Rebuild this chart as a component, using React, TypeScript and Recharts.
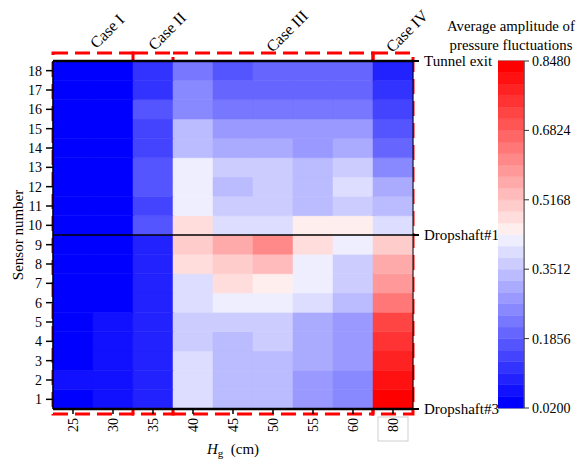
import React from 'react';
import { ComposedChart, BarChart, Bar, Line, Cell, XAxis, YAxis, ReferenceArea, ReferenceLine } from 'recharts';

const FONT = '"Liberation Serif", "Times New Roman", serif';

// H_g columns (cm) and sensor rows
const hgLabels = ['25', '30', '35', '40', '45', '50', '55', '60', '80'];
const sensorLabels = ['1', '2', '3', '4', '5', '6', '7', '8', '9', '10', '11', '12', '13', '14', '15', '16', '17', '18'];

// average amplitude of pressure fluctuations, sensor 1 -> 18
const amp25 = [0.034, 0.061, 0.034, 0.034, 0.034, 0.034, 0.034, 0.034, 0.034, 0.034, 0.034, 0.034, 0.034, 0.034, 0.034, 0.034, 0.034, 0.034];
const amp30 = [0.061, 0.061, 0.061, 0.061, 0.061, 0.034, 0.034, 0.034, 0.034, 0.034, 0.034, 0.034, 0.034, 0.034, 0.034, 0.034, 0.034, 0.034];
const amp35 = [0.089, 0.089, 0.089, 0.089, 0.089, 0.089, 0.089, 0.089, 0.089, 0.172, 0.144, 0.172, 0.172, 0.144, 0.144, 0.172, 0.117, 0.117];
const amp40 = [0.393, 0.393, 0.393, 0.365, 0.365, 0.393, 0.393, 0.476, 0.503, 0.476, 0.420, 0.420, 0.420, 0.337, 0.337, 0.255, 0.255, 0.227];
const amp45 = [0.337, 0.337, 0.337, 0.337, 0.365, 0.420, 0.476, 0.503, 0.558, 0.393, 0.365, 0.337, 0.365, 0.310, 0.282, 0.227, 0.199, 0.172];
const amp50 = [0.337, 0.337, 0.337, 0.365, 0.365, 0.420, 0.448, 0.531, 0.614, 0.393, 0.365, 0.365, 0.365, 0.310, 0.282, 0.227, 0.199, 0.199];
const amp55 = [0.282, 0.282, 0.310, 0.310, 0.310, 0.393, 0.420, 0.420, 0.476, 0.448, 0.337, 0.337, 0.337, 0.282, 0.282, 0.227, 0.199, 0.199];
const amp60 = [0.255, 0.255, 0.282, 0.282, 0.282, 0.337, 0.365, 0.365, 0.420, 0.448, 0.365, 0.393, 0.365, 0.310, 0.282, 0.227, 0.199, 0.199];
const amp80 = [0.834, 0.807, 0.779, 0.752, 0.724, 0.641, 0.586, 0.558, 0.503, 0.393, 0.337, 0.310, 0.255, 0.199, 0.172, 0.144, 0.117, 0.089];
const columns = [amp25, amp30, amp35, amp40, amp45, amp50, amp55, amp60, amp80];

// right axis markers
const siteTicks = [0, 9, 18];
const siteLabels = ['Dropshaft#3', 'Dropshaft#1', 'Tunnel exit'];

// cases
const caseNames = ['Case I', 'Case II', 'Case III', 'Case IV'];
const caseFrom = ['25', '35', '40', '80'];
const caseTo = ['30', '35', '60', '80'];

// colour bar
const cbLabels = ['0.0200', '0.1856', '0.3512', '0.5168', '0.6824', '0.8480'];
const V_MIN = 0.02;
const V_MAX = 0.848;
const LEVELS = 30;
const STEP = (V_MAX - V_MIN) / LEVELS;

function levelColor(level: number) {
  const half = LEVELS / 2;
  if (level < half) {
    const c = Math.round((255 * level) / half);
    return `rgb(${c},${c},255)`;
  }
  const c = Math.round(255 * (1 - (level - half + 1) / half));
  return `rgb(255,${c},${c})`;
}

function valueColor(v: number) {
  const lvl = Math.max(0, Math.min(LEVELS - 1, Math.floor((v - V_MIN) / STEP)));
  return levelColor(lvl);
}

const heatData = hgLabels.map((hg) => {
  const row: Record<string, any> = { hg, mid: 9 };
  sensorLabels.forEach((_, i) => (row['s' + (i + 1)] = 1));
  return row;
});

const sensorTicks = sensorLabels.map((_, i) => i + 0.5);

const cbRow: Record<string, any> = { name: 'cb' };
for (let i = 0; i < LEVELS; i++) cbRow['l' + i] = 1;
const cbData = [cbRow];
const cbTicks = cbLabels.map((l) => Math.round((parseFloat(l) - V_MIN) / STEP));

const HgTick = (props: any) => {
  const { x, y, payload } = props;
  return (
    <g>
      {payload.value === '80' && (
        <rect x={x - 15} y={y - 1} width={30} height={24} fill="none" stroke="#cfcfcf" strokeWidth={1} />
      )}
      <text
        x={x}
        y={y}
        transform={`rotate(-90 ${x} ${y})`}
        textAnchor="end"
        dominantBaseline="central"
        fontFamily={FONT}
        fontSize={14}
        fill="#000"
      >
        {payload.value}
      </text>
    </g>
  );
};

const CaseLabel = (text: string) => (props: any) => {
  const vb = props.viewBox;
  const x = vb.x + vb.width / 2 + 14;
  const y = vb.y - 22;
  return (
    <text
      x={x}
      y={y}
      transform={`rotate(-45 ${x} ${y})`}
      textAnchor="middle"
      dominantBaseline="central"
      fontFamily={FONT}
      fontSize={16}
      fill="#000"
    >
      {text}
    </text>
  );
};

const SensorTitle = (props: any) => {
  const vb = props.viewBox;
  const x = vb.x + 15;
  const y = vb.y + vb.height / 2;
  return (
    <text x={x} y={y} transform={`rotate(-90 ${x} ${y})`} textAnchor="middle" dominantBaseline="central" fontFamily={FONT} fontSize={15} fill="#000">
      Sensor number
    </text>
  );
};

const HgTitle = (props: any) => {
  const vb = props.viewBox;
  return (
    <text x={vb.x + vb.width / 2} y={vb.y + 40} textAnchor="middle" dominantBaseline="central" fontFamily={FONT} fontSize={15} fill="#000">
      <tspan fontStyle="italic">H</tspan>
      <tspan fontSize={11} dy={4}>g</tspan>
      <tspan dy={-4}>{'\u00a0\u00a0(cm)'}</tspan>
    </text>
  );
};

const tickFont = { fontFamily: FONT, fontSize: 14, fill: '#000' };

export default function App() {
  return (
    <div style={{ position: 'absolute', left: 0, top: 0, width: 579, height: 462, background: '#fff' }}>
      <div style={{ position: 'absolute', left: 0, top: 0 }}>
        <ComposedChart
          width={579}
          height={462}
          data={heatData}
          margin={{ top: 61, right: 86, bottom: 8, left: 3 }}
          barCategoryGap={0}
          barGap={0}
        >
          <XAxis
            dataKey="hg"
            type="category"
            height={45}
            interval={0}
            tick={<HgTick />}
            tickSize={5}
            tickMargin={4}
            tickLine={{ stroke: '#000', strokeWidth: 1.5 }}
            axisLine={{ stroke: '#000', strokeWidth: 2.5 }}
            label={HgTitle}
          />
          <YAxis
            yAxisId="left"
            type="number"
            domain={[0, 18]}
            ticks={sensorTicks}
            interval={0}
            width={50}
            tickFormatter={(v: number) => sensorLabels[Math.floor(v)]}
            tick={tickFont}
            tickSize={7}
            tickMargin={4}
            tickLine={{ stroke: '#000', strokeWidth: 1.5 }}
            axisLine={{ stroke: '#000', strokeWidth: 1.5 }}
            label={SensorTitle}
          />
          <YAxis
            yAxisId="right"
            orientation="right"
            type="number"
            domain={[0, 18]}
            allowDataOverflow
            ticks={siteTicks}
            interval={0}
            width={80}
            tickFormatter={(v: number) => siteLabels[siteTicks.indexOf(v)]}
            tick={{ ...tickFont, fontSize: 15, textAnchor: 'start' }}
            tickSize={6}
            tickMargin={5}
            tickLine={{ stroke: '#000', strokeWidth: 2 }}
            axisLine={{ stroke: '#000', strokeWidth: 1 }}
          />
          {sensorLabels.map((_, i) => (
            <Bar key={i} yAxisId="left" dataKey={'s' + (i + 1)} stackId="h" isAnimationActive={false}>
              {hgLabels.map((hg, c) => (
                <Cell key={hg} fill={valueColor(columns[c][i])} stroke={valueColor(columns[c][i])} strokeWidth={0.5} />
              ))}
            </Bar>
          ))}
          {/* invisible series so the right-hand axis gets registered */}
          <Line
            yAxisId="right"
            dataKey="mid"
            stroke="none"
            dot={false}
            activeDot={false}
            legendType="none"
            isAnimationActive={false}
          />
          <ReferenceLine yAxisId="left" y={18} stroke="#000" strokeWidth={2.5} />
          <ReferenceLine yAxisId="left" y={9} stroke="#000" strokeWidth={1.5} />
          {caseNames.map((name, k) => (
            <ReferenceArea
              key={name}
              yAxisId="left"
              x1={caseFrom[k]}
              x2={caseTo[k]}
              y1={-0.26}
              y2={18.41}
              ifOverflow="visible"
              fill="none"
              fillOpacity={0}
              stroke="#ff0000"
              strokeWidth={3}
              strokeDasharray="15 7"
              label={CaseLabel(name)}
            />
          ))}
        </ComposedChart>
      </div>

      <div
        style={{
          position: 'absolute',
          left: 441,
          top: 17,
          width: 140,
          textAlign: 'center',
          whiteSpace: 'nowrap',
          fontFamily: FONT,
          fontSize: 14.8,
          lineHeight: '19px',
          color: '#000',
        }}
      >
        Average amplitude of
        <br />
        pressure fluctuations
      </div>

      <div style={{ position: 'absolute', left: 498, top: 0 }}>
        <BarChart width={81} height={462} data={cbData} margin={{ top: 61, right: 0, bottom: 54, left: 0 }} barCategoryGap={0}>
          <XAxis dataKey="name" hide />
          <YAxis
            orientation="right"
            type="number"
            domain={[0, LEVELS]}
            ticks={cbTicks}
            interval={0}
            width={55}
            tickFormatter={(v: number) => cbLabels[cbTicks.indexOf(v)]}
            tick={{ ...tickFont, textAnchor: 'start' }}
            tickSize={5}
            tickMargin={3}
            tickLine={{ stroke: '#333', strokeWidth: 1 }}
            axisLine={{ stroke: '#555', strokeWidth: 1 }}
          />
          {Array.from({ length: LEVELS }, (_, i) => (
            <Bar key={i} dataKey={'l' + i} stackId="cb" fill={levelColor(i)} stroke={levelColor(i)} strokeWidth={0.5} isAnimationActive={false} />
          ))}
          <ReferenceArea x1="cb" x2="cb" y1={0} y2={LEVELS} fill="none" fillOpacity={0} stroke="#555" strokeWidth={1} ifOverflow="visible" />
        </BarChart>
      </div>
    </div>
  );
}
